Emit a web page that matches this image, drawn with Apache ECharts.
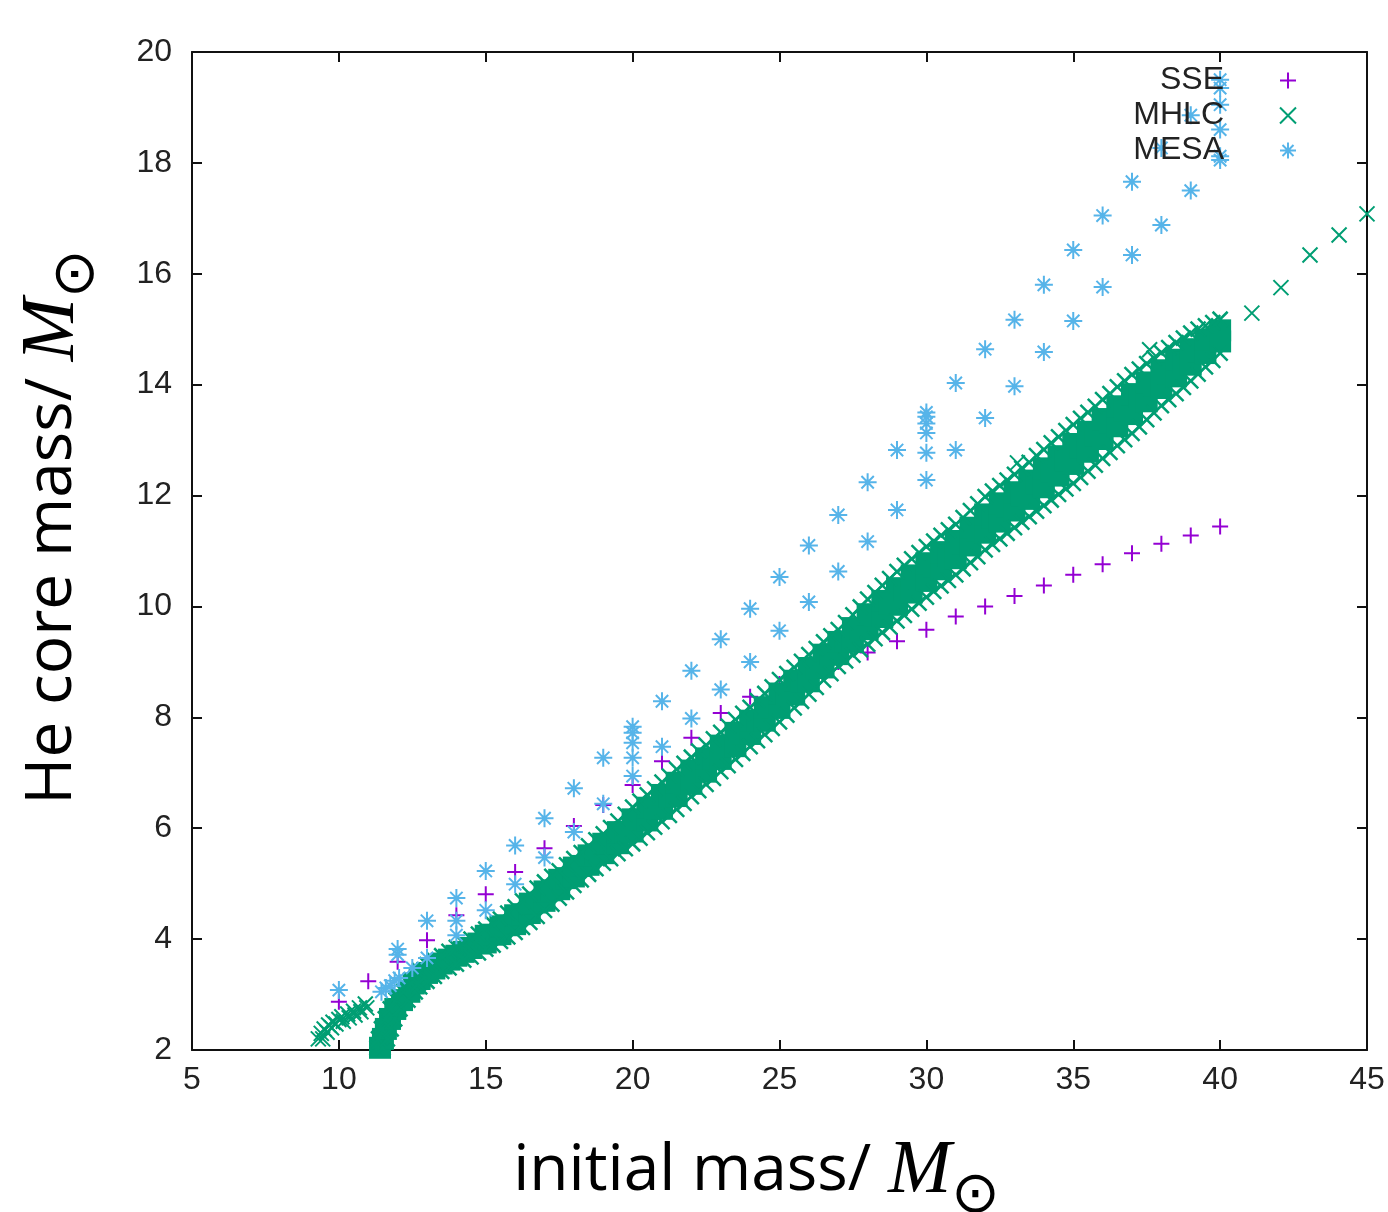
<!DOCTYPE html>
<html><head><meta charset="utf-8">
<script src="https://cdn.jsdelivr.net/npm/echarts@6/dist/echarts.min.js"></script>
<style>html,body{margin:0;padding:0;background:#fff}#c{width:1388px;height:1212px}</style>
</head><body><div id="c"></div>
<script>
// ---------- data ----------
const xMin = 5, xMax = 45, xStep = 5;
const yMin = 2, yMax = 20, yStep = 2;

const sseMass = [10,11,12,13,14,15,16,17,18,19,20,21,22,23,24,25,26,27,28,29,30,31,32,33,34,35,36,37,38,39,40];
const sseCore = [2.87,3.24,3.59,3.98,4.43,4.81,5.21,5.64,6.04,6.42,6.78,7.21,7.63,8.08,8.37,8.6,8.8,9.0,9.17,9.37,9.58,9.82,10.0,10.19,10.38,10.57,10.76,10.96,11.13,11.28,11.44];

const mesaPoints = [
 [10,3.08],[11.45,3.05],[11.6,3.12],[11.75,3.16],[11.9,3.25],[12.05,3.3],
 [12,3.72],[12,3.82],[12.5,3.48],[13,3.66],[13,4.33],
 [14,4.07],[14,4.33],[14,4.74],[15,4.52],[15,5.23],[16,4.99],[16,5.69],
 [17,5.47],[17,6.18],[18,5.93],[18,6.72],[19,6.44],[19,7.27],
 [20,6.94],[20,7.27],[20,7.54],[20,7.72],[20,7.83],
 [21,7.47],[21,8.29],[22,7.98],[22,8.84],[23,8.5],[23,9.41],[24,9.0],[24,9.96],
 [25,9.56],[25,10.53],[26,10.08],[26,11.1],[27,10.63],[27,11.65],[28,11.17],[28,12.24],
 [29,11.74],[29,12.82],
 [30,12.28],[30,12.77],[30,13.13],[30,13.3],[30,13.42],[30,13.5],
 [31,12.82],[31,14.03],[32,13.4],[32,14.64],[33,13.97],[33,15.17],[34,14.59],[34,15.8],
 [35,15.15],[35,16.43],[36,15.76],[36,17.05],[37,16.34],[37,17.66],[38,16.88],[38,18.27],
 [39,17.5],[39,18.86],
 [40,18.05],[40,18.12],[40,18.6],[40,19.05],[40,19.35],[40,19.5]
];

// MHLC: dense band, listed column by column [initial mass, [core masses, low to high]]
const mhlcColumns = [
[12.75,[3.14,3.28,3.43]],[13,[3.24,3.39,3.54]],[13.25,[3.33,3.47,3.62]],[13.5,[3.42,3.56,3.7]],
[13.75,[3.48,3.63,3.78]],[14,[3.55,3.7,3.85]],[14.25,[3.62,3.77,3.93]],[14.5,[3.68,3.84,4.0]],
[14.75,[3.75,3.92,4.09]],[15,[3.82,3.94,4.06,4.18]],[15.25,[3.89,4.08,4.27]],[15.5,[3.96,4.09,4.23,4.36]],
[15.75,[4.04,4.25,4.47]],[16,[4.12,4.27,4.43,4.58]],[16.25,[4.21,4.45,4.69]],[16.5,[4.3,4.47,4.64,4.81]],
[16.75,[4.41,4.66,4.92]],[17,[4.52,4.69,4.86,5.03]],[17.25,[4.63,4.88,5.13]],[17.5,[4.74,4.9,5.07,5.23]],
[17.75,[4.85,5.1,5.34]],[18,[4.97,5.13,5.29,5.45]],[18.25,[5.07,5.32,5.56]],[18.5,[5.17,5.34,5.51,5.68]],
[18.75,[5.27,5.53,5.79]],[19,[5.37,5.55,5.72,5.9]],[19.25,[5.45,5.73,6.01]],[19.5,[5.54,5.73,5.93,6.13]],
[19.75,[5.63,5.93,6.25]],[20,[5.72,5.94,6.16,6.38]],[20.25,[5.82,6.15,6.49]],[20.5,[5.92,6.14,6.37,6.6]],
[20.75,[6.02,6.36,6.71]],[21,[6.12,6.35,6.6,6.83]],[21.25,[6.23,6.58,6.94]],[21.5,[6.34,6.58,6.82,7.06]],
[21.75,[6.45,6.81,7.17]],[22,[6.57,6.8,7.04,7.28]],[22.25,[6.68,7.04,7.39]],[22.5,[6.79,7.02,7.26,7.5]],
[22.75,[6.9,7.26,7.61]],[23,[7.02,7.25,7.49,7.73]],[23.25,[7.13,7.49,7.84]],[23.5,[7.24,7.48,7.72,7.96]],
[23.75,[7.35,7.71,8.07]],[24,[7.47,7.7,7.94,8.18]],[24.25,[7.58,7.94,8.3]],[24.5,[7.69,7.94,8.18,8.43]],
[24.75,[7.8,8.18,8.55]],[25,[7.92,8.17,8.43,8.68]],[25.25,[8.04,8.42,8.79]],[25.5,[8.17,8.41,8.66,8.9]],
[25.75,[8.29,8.65,9.01]],[26,[8.42,8.65,8.89,9.13]],[26.25,[8.54,8.89,9.24]],[26.5,[8.67,8.9,9.13,9.36]],
[26.75,[8.79,9.13,9.47]],[27,[8.92,9.14,9.36,9.58]],[27.25,[9.02,9.37,9.71]],[27.5,[9.12,9.36,9.61,9.85]],
[27.75,[9.22,9.6,9.99]],[28,[9.32,9.59,9.86,10.13]],[28.25,[9.42,9.83,10.25]],[28.5,[9.53,9.81,10.1,10.38]],
[28.75,[9.63,10.06,10.5]],[29,[9.74,10.03,10.33,10.63]],[29.25,[9.84,10.29,10.74]],[29.5,[9.95,10.25,10.56,10.86]],
[29.75,[10.06,10.51,10.97]],[30,[10.17,10.46,10.78,11.08]],[30.25,[10.27,10.72,11.18]],[30.5,[10.37,10.67,10.98,11.28]],
[30.75,[10.47,10.92,11.38]],[31,[10.57,10.87,11.18,11.48]],[31.25,[10.68,11.14,11.6]],[31.5,[10.79,11.1,11.42,11.73]],
[31.75,[10.9,11.37,11.85]],[32,[11.02,11.33,11.66,11.98]],[32.25,[11.12,11.6,12.08]],[32.5,[11.22,11.53,11.86,12.18]],
[32.75,[11.32,11.8,12.28]],[33,[11.42,11.73,12.06,12.38]],[33.25,[11.52,12.0,12.49]],[33.5,[11.62,11.94,12.27,12.6]],
[33.75,[11.72,12.22,12.72]],[34,[11.82,12.15,12.49,12.83]],[34.25,[11.92,12.43,12.95]],[34.5,[12.02,12.36,12.71,13.06]],
[34.75,[12.12,12.64,13.17]],[35,[12.22,12.57,12.93,13.28]],[35.25,[12.33,12.86,13.39]],[35.5,[12.44,12.79,13.15,13.5]],
[35.75,[12.55,13.08,13.61]],[36,[12.67,13.02,13.38,13.73]],[36.25,[12.78,13.31,13.84]],[36.5,[12.9,13.25,13.61,13.96]],
[36.75,[13.01,13.54,14.07]],[37,[13.12,13.47,13.83,14.18]],[37.25,[13.24,13.76,14.28]],[37.5,[13.37,13.7,14.04,14.38]],
[37.75,[13.49,13.99,14.48]],[38,[13.62,13.94,14.26,14.58]],[38.25,[13.73,14.2,14.67]],[38.5,[13.84,14.15,14.45,14.76]],
[38.75,[13.95,14.4,14.84]],[39,[14.07,14.36,14.64,14.93]],[39.25,[14.19,14.6,15.0]],[39.5,[14.32,14.57,14.81,15.06]],
[39.75,[14.44,14.81,15.12]],[40,[14.57,14.78,14.98,15.18]]
];
// MHLC: steep lower end of the band, listed row by row [core mass, [initial masses, left to right]]
const mhlcSteepRows = [
 [2.04,[11.3,11.4,11.5]],[2.2,[11.35,11.5,11.65]],[2.38,[11.45,11.6,11.78]],[2.56,[11.58,11.74,11.9]],
 [2.74,[11.75,11.92,12.08]],[2.9,[11.95,12.15,12.35]],[3.05,[12.2,12.4,12.6]],[3.2,[12.45,12.55,12.7]]
];
// MHLC: small separate branch at low mass
const mhlcBranch = [[9.3,2.2],[9.4,2.3],[9.45,2.2],[9.5,2.38],[9.6,2.32],[9.65,2.45],[9.75,2.4],[9.8,2.5],[9.9,2.47],
 [10.0,2.55],[10.1,2.6],[10.15,2.52],[10.3,2.65],[10.35,2.58],[10.5,2.7],[10.55,2.63],[10.7,2.76],[10.75,2.69],[10.9,2.83],[10.95,2.76]];
// MHLC: isolated points
const mhlcSparse = [[33.1,12.59],[37.6,14.63],[41.08,15.29],[42.07,15.75],[43.06,16.34],[44.05,16.7],[45,17.08]];

// ---------- chart ----------
const PLUS = 'path://M6,0V12M0,6H12';
const CROSS = 'path://M0,0L12,12M12,0L0,12';
const STAR = 'path://M8,0V16M0,8H16M2.5,2.5L13.5,13.5M13.5,2.5L2.5,13.5';
const C_SSE = '#9400d3', C_MHLC = '#009e73', C_MESA = '#56b4e9';

// edge points of the band keep the cross marker; the overlapping interior points form the solid core
const bandEdge = [], bandCore = [];
mhlcColumns.forEach(function (col) {
  const vs = col[1];
  vs.forEach(function (v, i) {
    (i === 0 || i === vs.length - 1 ? bandEdge : bandCore).push([col[0], v]);
  });
});
mhlcSteepRows.forEach(function (row) {
  const ms = row[1];
  ms.forEach(function (m, i) {
    (i === 0 || i === ms.length - 1 ? bandEdge : bandCore).push([m, row[0]]);
  });
});

const chart = echarts.init(document.getElementById('c'), null, {renderer: 'canvas'});
const axisCommon = {
  type: 'value',
  axisLine: {show: true, onZero: false, lineStyle: {color: '#111', width: 2}},
  axisTick: {show: true, inside: true, length: 10, lineStyle: {color: '#111', width: 2}},
  splitLine: {show: false}
};
const labelFont = {fontFamily: 'Liberation Sans', fontSize: 32, color: '#222'};
const titleRich = {
  a: {fontFamily: 'Open Sans', fontSize: 64, color: '#000', lineHeight: 80},
  m: {fontFamily: 'Liberation Serif', fontStyle: 'italic', fontSize: 76, color: '#000', lineHeight: 80},
  o: {fontFamily: 'DejaVu Sans', fontSize: 58, color: '#000', lineHeight: 30, padding: [50, 0, 0, 0]}
};

chart.setOption({
  animation: false,
  backgroundColor: '#fff',
  grid: {left: 192, right: 21, top: 52, bottom: 162, show: false, containLabel: false, outerBoundsMode: 'none'},
  xAxis: [
    Object.assign({}, axisCommon, {
      min: xMin, max: xMax, interval: xStep, position: 'bottom',
      axisLabel: Object.assign({margin: 14}, labelFont),
      name: '{a|initial mass/ }{m|M}{o|⊙}', nameLocation: 'middle', nameGap: 82,
      nameTextStyle: {rich: titleRich, padding: [0, 46, 0, 0]}
    }),
    Object.assign({}, axisCommon, {
      min: xMin, max: xMax, interval: xStep, position: 'top', axisLabel: {show: false}
    })
  ],
  yAxis: [
    Object.assign({}, axisCommon, {
      min: yMin, max: yMax, interval: yStep, position: 'left',
      axisLabel: Object.assign({margin: 20}, labelFont),
      name: '{a|He core mass/ }{m|M}{o|⊙}', nameLocation: 'middle', nameGap: 99, nameRotate: 90,
      nameTextStyle: {rich: titleRich, padding: [0, 0, 0, 48]}
    }),
    Object.assign({}, axisCommon, {
      min: yMin, max: yMax, interval: yStep, position: 'right', axisLabel: {show: false}
    })
  ],
  legend: {
    orient: 'vertical', right: 91, top: 63, align: 'right', itemGap: 0,
    itemWidth: 16, itemHeight: 16, padding: 0, selectedMode: false,
    data: ['SSE', 'MHLC', 'MESA'],
    textStyle: {fontFamily: 'Liberation Sans', fontSize: 32, color: '#222', lineHeight: 35, padding: [0, 51, 0, 0]}
  },
  series: [
    {name: 'SSE', type: 'scatter', clip: false, silent: true,
     data: sseMass.map(function (m, i) { return [m, sseCore[i]]; }),
     symbol: PLUS, symbolSize: 16,
     itemStyle: {color: C_SSE, borderColor: C_SSE, borderWidth: 2, opacity: 1}},
    {name: 'MHLC', type: 'scatter', clip: false, silent: true,
     data: mhlcBranch.concat(mhlcSparse),
     symbol: CROSS, symbolSize: 15,
     itemStyle: {color: C_MHLC, borderColor: C_MHLC, borderWidth: 2, opacity: 1}},
    {name: 'MHLC', type: 'scatter', clip: false, silent: true,
     data: bandCore,
     symbol: 'rect', symbolSize: 22,
     itemStyle: {color: C_MHLC, borderWidth: 0, opacity: 1}},
    {name: 'MHLC', type: 'scatter', clip: false, silent: true,
     data: bandEdge,
     symbol: CROSS, symbolSize: 15,
     itemStyle: {color: C_MHLC, borderColor: C_MHLC, borderWidth: 2.5, opacity: 1}},
    {name: 'MESA', type: 'scatter', clip: false, silent: true,
     data: mesaPoints,
     symbol: STAR, symbolSize: 18,
     itemStyle: {color: C_MESA, borderColor: C_MESA, borderWidth: 2, opacity: 1}}
  ]
});
</script></body></html>
